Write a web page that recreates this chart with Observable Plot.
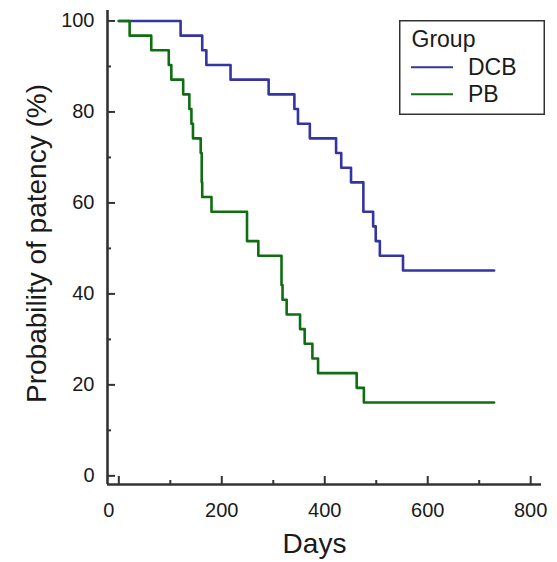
<!DOCTYPE html>
<html>
<head>
<meta charset="utf-8">
<script src="https://cdn.jsdelivr.net/npm/d3@7"></script>
<script src="https://cdn.jsdelivr.net/npm/@observablehq/plot@0.6"></script>
<style>
  html, body { margin: 0; padding: 0; background: #fff; }
  #wrap { position: relative; width: 557px; height: 562px; font-family: "Liberation Sans", Arial, sans-serif; }
</style>
</head>
<body>
<div id="wrap"></div>
<script>
// ---- data ----
const groups = ["DCB", "PB"];
const groupColors = ["#3434a2", "#0f6e12"];

const dcbDays = [0, 120, 162, 170, 217, 291, 341, 348, 371, 422, 432, 451, 475, 494, 499, 507, 552, 729];
const dcbSurv = [100, 96.77, 93.55, 90.32, 87.10, 83.87, 80.65, 77.42, 74.19, 70.97, 67.74, 64.52, 58.06, 54.84, 51.61, 48.39, 45.16, 45.16];

const pbDays = [0, 21, 63, 97, 102, 125, 137, 141, 144, 159, 161, 162, 180, 249, 271, 316, 318, 326, 352, 361, 376, 387, 462, 476, 729];
const pbSurv = [100, 96.77, 93.55, 90.32, 87.10, 83.87, 80.65, 77.42, 74.19, 70.97, 64.52, 61.29, 58.06, 51.61, 48.39, 41.94, 38.71, 35.48, 32.26, 29.03, 25.81, 22.58, 19.35, 16.13, 16.13];

const xMajor = [0, 200, 400, 600, 800];
const xMinor = [100, 300, 500, 700];
const yMajor = [0, 20, 40, 60, 80, 100];
const yMinor = [10, 30, 50, 70, 90];

const xTitle = "Days";
const yTitle = "Probability of patency (%)";
const legendTitle = "Group";

// ---- layout ----
const W = 557, H = 562;
const mL = 107, mR = 16, mT = 10, mB = 78;
const innerW = W - mL - mR, innerH = H - mT - mB;
const xDomain = [-22, 821];
const yDomain = [-1.9, 102.3];
const axisColor = "#333";

const dcb = dcbDays.map((d, i) => ({day: d, surv: dcbSurv[i], group: groups[0]}));
const pb = pbDays.map((d, i) => ({day: d, surv: pbSurv[i], group: groups[1]}));

const chart = Plot.plot({
  width: W, height: H,
  marginLeft: mL, marginRight: mR, marginTop: mT, marginBottom: mB,
  x: {domain: xDomain},
  y: {domain: yDomain},
  style: {fontFamily: "Liberation Sans, Arial, sans-serif", color: "#1a1a1a", background: "#fff"},
  marks: [
    Plot.axisX(xMajor.filter(d => d !== 0), {tickSize: 0, tickPadding: 18, fontSize: 20, label: null}),
    Plot.axisX(xMajor.filter(d => d === 0), {tickSize: 0, tickPadding: 18, fontSize: 20, label: null, dx: -10}),
    Plot.axisY(yMajor, {tickSize: 0, tickPadding: 13, fontSize: 20, label: null}),
    Plot.ruleX(xMajor, {insetTop: innerH - 8, stroke: axisColor, strokeWidth: 2}),
    Plot.ruleX(xMinor, {insetTop: innerH - 4, stroke: axisColor, strokeWidth: 2}),
    Plot.ruleY(yMajor, {insetRight: innerW - 8, stroke: axisColor, strokeWidth: 2}),
    Plot.ruleY(yMinor, {insetRight: innerW - 4, stroke: axisColor, strokeWidth: 2}),
    Plot.ruleX([xDomain[0]], {stroke: axisColor, strokeWidth: 2.6}),
    Plot.ruleY([yDomain[0]], {stroke: axisColor, strokeWidth: 2.6}),
    Plot.line(dcb, {x: "day", y: "surv", curve: "step-after", stroke: groupColors[0], strokeWidth: 2.6}),
    Plot.line(pb, {x: "day", y: "surv", curve: "step-after", stroke: groupColors[1], strokeWidth: 2.6}),
    Plot.text([yTitle], {text: d => d, frameAnchor: "left", textAnchor: "middle", rotate: -90, dx: -70, dy: -4, fontSize: 28}),
    Plot.text([xTitle], {text: d => d, frameAnchor: "bottom", textAnchor: "middle", dy: 68, dx: -10, fontSize: 28})
  ]
});

const wrap = document.getElementById("wrap");
wrap.appendChild(chart);

// ---- legend (inside the plot area, top right) ----
const ns = "http://www.w3.org/2000/svg";
const lg = document.createElementNS(ns, "svg");
lg.setAttribute("width", 146);
lg.setAttribute("height", 95);
lg.style.position = "absolute";
lg.style.left = "399px";
lg.style.top = "20px";
lg.style.fontFamily = "Liberation Sans, Arial, sans-serif";
const box = document.createElementNS(ns, "rect");
box.setAttribute("x", 0.75); box.setAttribute("y", 0.75);
box.setAttribute("width", 144.5); box.setAttribute("height", 93.5);
box.setAttribute("fill", "#fff"); box.setAttribute("stroke", axisColor); box.setAttribute("stroke-width", 1.5);
lg.appendChild(box);
const t0 = document.createElementNS(ns, "text");
t0.setAttribute("x", 12.5); t0.setAttribute("y", 26.5);
t0.setAttribute("font-size", 23); t0.setAttribute("fill", "#1a1a1a");
t0.textContent = legendTitle;
lg.appendChild(t0);
groups.forEach((g, i) => {
  const yLine = 47.3 + i * 27;
  const ln = document.createElementNS(ns, "line");
  ln.setAttribute("x1", 12); ln.setAttribute("x2", 54);
  ln.setAttribute("y1", yLine); ln.setAttribute("y2", yLine);
  ln.setAttribute("stroke", groupColors[i]); ln.setAttribute("stroke-width", 2);
  lg.appendChild(ln);
  const tx = document.createElementNS(ns, "text");
  tx.setAttribute("x", 69); tx.setAttribute("y", yLine + 8);
  tx.setAttribute("font-size", 23); tx.setAttribute("fill", "#1a1a1a");
  tx.textContent = g;
  lg.appendChild(tx);
});
wrap.appendChild(lg);
</script>
</body>
</html>
